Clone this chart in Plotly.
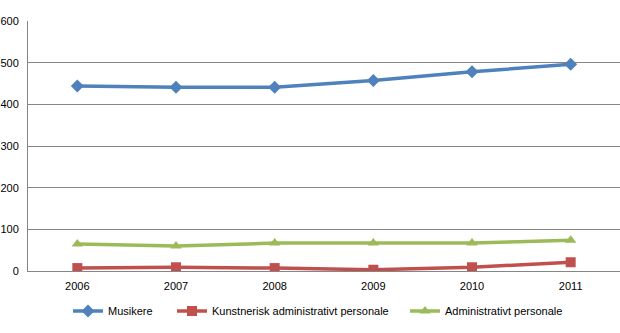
import plotly.graph_objects as go

years = ["2006", "2007", "2008", "2009", "2010", "2011"]
musikere = [444, 441, 441, 457, 478, 496]
kunstnerisk = [7, 9, 7, 3, 9, 21]
administrativt = [65, 60, 67, 67, 67, 74]

names = ["Musikere", "Kunstnerisk administrativt personale", "Administrativt personale"]
colors = ["#4F81BD", "#C0504D", "#9BBB59"]
symbols = ["diamond", "square", "triangle-up"]
series = [musikere, kunstnerisk, administrativt]
legends = ["legend", "legend2", "legend3"]
legend_x = [68, 172, 405]

fig = go.Figure()
for name, vals, col, sym, lg in zip(names, series, colors, symbols, legends):
    fig.add_trace(go.Scatter(
        x=years, y=vals, name=name, mode="lines+markers",
        line=dict(color=col, width=3.5),
        marker=dict(symbol=sym, size=10, color=col, line=dict(width=0)),
        legend=lg, showlegend=True,
    ))

font = dict(family="Liberation Sans, Arial, sans-serif", size=11, color="#000000")
layout_legends = {}
for lg, lx in zip(legends, legend_x):
    layout_legends[lg] = dict(
        x=lx / 620, y=1 - 311 / 333, xref="container", yref="container",
        xanchor="left", yanchor="middle", orientation="h",
        font=font, bgcolor="rgba(0,0,0,0)", visible=True,
    )

fig.update_layout(
    width=620, height=333,
    margin=dict(l=28, r=0, t=21, b=62),
    paper_bgcolor="white", plot_bgcolor="white",
    font=font, showlegend=True,
    xaxis=dict(
        type="category", showgrid=False, showline=True, linecolor="#868686",
        linewidth=1, ticks="", tickfont=font, range=[-0.5, 5.5], fixedrange=True,
        ticklabelstandoff=5,
    ),
    yaxis=dict(
        range=[0, 600], dtick=100, showgrid=True, gridcolor="#868686", gridwidth=1,
        showline=True, linecolor="#868686", linewidth=1, ticks="", tickfont=font,
        zeroline=False, ticklabelstandoff=6,
    ),
    **layout_legends,
)

fig.write_html("out.html")
